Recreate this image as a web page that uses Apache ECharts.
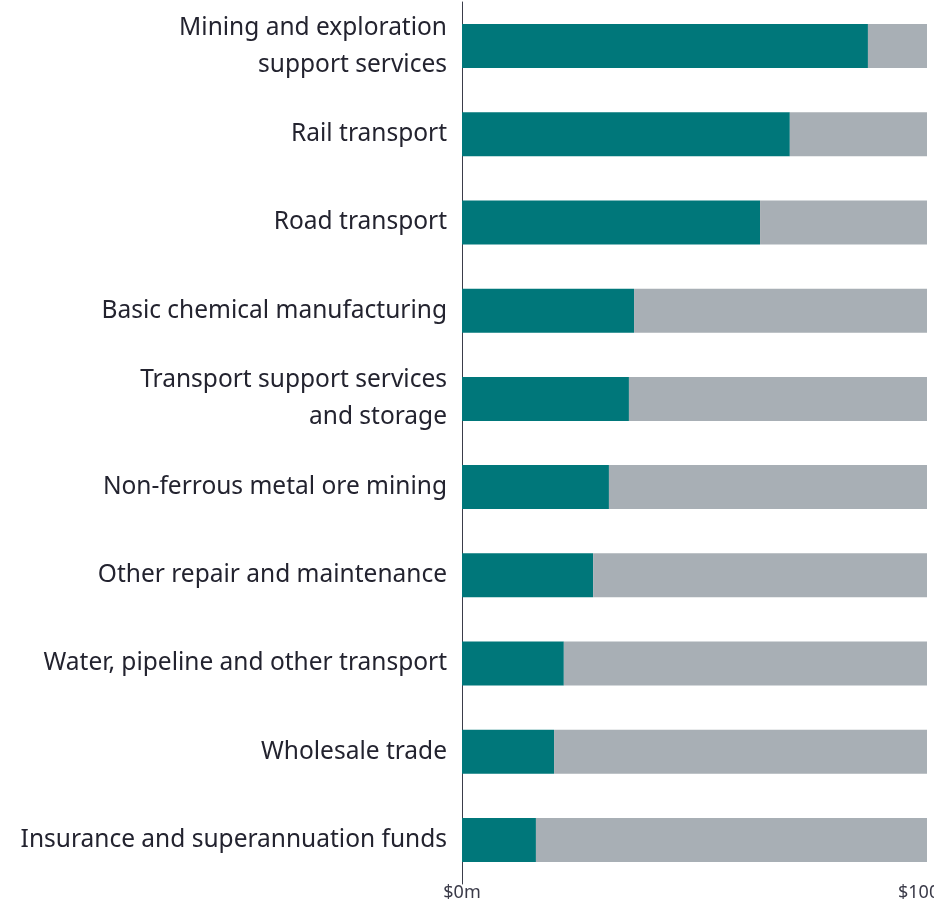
<!DOCTYPE html>
<html><head><meta charset="utf-8">
<script src="https://cdn.jsdelivr.net/npm/echarts@6/dist/echarts.min.js"></script>
<style>html,body{margin:0;padding:0;background:#fff}#c{width:934px;height:899px}</style>
</head><body><div id="c"></div>
<script>
const categories = [
  "Mining and exploration\nsupport services",
  "Rail transport",
  "Road transport",
  "Basic chemical manufacturing",
  "Transport support services\nand storage",
  "Non-ferrous metal ore mining",
  "Other repair and maintenance",
  "Water, pipeline and other transport",
  "Wholesale trade",
  "Insurance and superannuation funds"
];
const tealValues = [87.3, 70.5, 64.1, 37.0, 35.9, 31.6, 28.2, 21.9, 19.8, 15.9];
const grayValues = [12.7, 29.5, 35.9, 63.0, 64.1, 68.4, 71.8, 78.1, 80.2, 84.1];
const xTickLabels = {0: "$0m", 100: "$100m"};

const chart = echarts.init(document.getElementById('c'), null, {renderer: 'canvas'});
chart.setOption({
  animation: false,
  grid: {left: 462, right: 7, top: 2, bottom: 15, containLabel: false, outerBoundsMode: 'none'},
  xAxis: {
    type: 'value', min: 0, max: 100, interval: 100,
    axisLine: {show: false}, axisTick: {show: false}, splitLine: {show: false},
    axisLabel: {
      formatter: v => xTickLabels[v] || '',
      fontFamily: 'Noto Sans', fontSize: 18, color: '#3a3a48', margin: 0,
      hideOverlap: false
    }
  },
  yAxis: {
    type: 'category', data: categories, inverse: true,
    axisLine: {show: true, lineStyle: {color: '#3a3d4a', width: 1}},
    axisTick: {show: false},
    axisLabel: {
      fontFamily: 'Noto Sans', fontSize: 24.5, color: '#23232f', margin: 15,
      lineHeight: 37, align: 'right', padding: [6, 0, 0, 0]
    }
  },
  series: [
    {type: 'bar', stack: 't', data: tealValues, barWidth: 44,
     itemStyle: {color: '#00777a'}},
    {type: 'bar', stack: 't', data: grayValues, barWidth: 44,
     itemStyle: {color: '#a8afb5'}}
  ]
});
</script></body></html>
